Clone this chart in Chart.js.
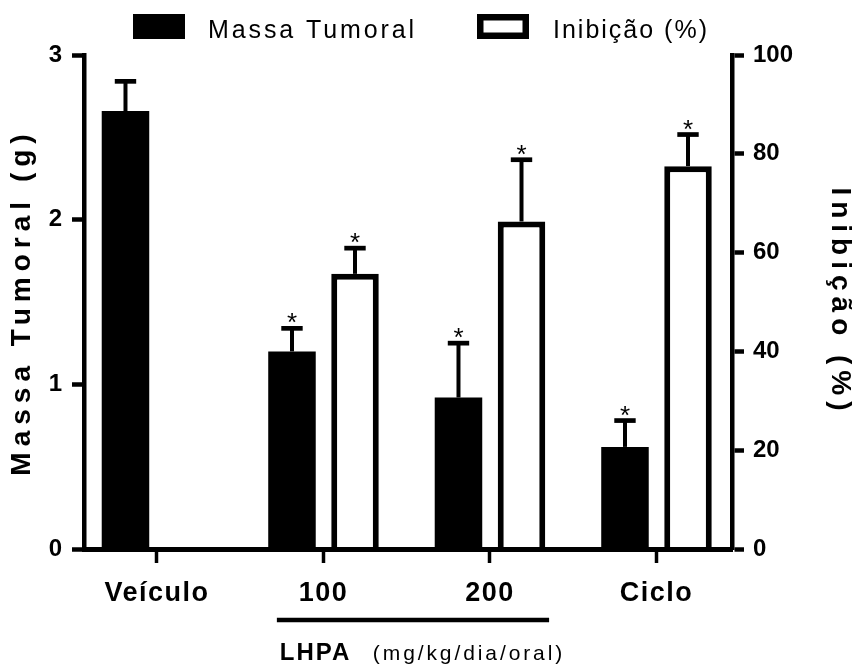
<!DOCTYPE html>
<html>
<head>
<meta charset="utf-8">
<script src="https://cdn.jsdelivr.net/npm/chart.js@4.4.1/dist/chart.umd.min.js"></script>
<style>html,body{margin:0;padding:0;background:#fff}canvas{display:block}</style>
</head>
<body>
<canvas id="c" width="858" height="666"></canvas>
<script>
// ---------- data ----------
const CATEGORIES = ['Veículo', '100', '200', 'Ciclo'];
const SERIES_LABELS = ['Massa Tumoral', 'Inibição (%)'];
const MASS_MEAN = [2.66, 1.20, 0.92, 0.62];
const MASS_SEM = [0.18, 0.14, 0.33, 0.16];
const INHIB_MEAN = [null, 55.7, 66.3, 77.5];
const INHIB_SEM = [null, 5.2, 12.5, 6.4];
const MASS_SIG = ['', '*', '*', '*'];
const INHIB_SIG = ['', '*', '*', '*'];
const LEFT_TICKS = [0, 1, 2, 3];
const RIGHT_TICKS = [0, 20, 40, 60, 80, 100];
const Y_LEFT_TITLE = 'Massa Tumoral (g)';
const Y_RIGHT_TITLE = 'Inibição (%)';
const GROUP_TITLE = 'LHPA';
const GROUP_UNIT = '(mg/kg/dia/oral)';

// ---------- style / layout ----------
const FF = "'Liberation Sans', Arial, Helvetica, sans-serif";
const X_MIN = -0.4384, X_MAX = 3.4535;
const GROUP_SPAN = [0.72, 2.355];
const LEGEND_LAYOUT = [
  {boxX: 133, textX: 208, spacing: '2.9px'},
  {boxX: 477, textX: 553, spacing: '2px'}
];

function spacingFor(font) {
  const bold = /bold|700/.test(font);
  if (bold && /(^|\s)28px/.test(font)) return '6px';
  if (bold && /(^|\s)27px/.test(font)) return '1.5px';
  return null;
}

const nativeFill = CanvasRenderingContext2D.prototype.fillText;
CanvasRenderingContext2D.prototype.fillText = function (t, x, y, mw) {
  const prev = this.letterSpacing;
  const unset = !prev || prev === '0px' || prev === '0';
  let changed = false;
  if (unset) {
    const s = spacingFor(String(this.font));
    if (s) { this.letterSpacing = s; changed = true; }
  }
  if (mw === undefined || mw === null) nativeFill.call(this, t, x, y); else nativeFill.call(this, t, x, y, mw);
  if (changed) this.letterSpacing = '0px';
};

const canvas = document.getElementById('c');

const errorBars = {
  id: 'errorBars',
  afterDatasetsDraw(chart) {
    const ctx = chart.ctx;
    const sets = [
      {mean: MASS_MEAN, sem: MASS_SEM, sig: MASS_SIG, axis: 'y'},
      {mean: INHIB_MEAN, sem: INHIB_SEM, sig: INHIB_SIG, axis: 'y1'}
    ];
    sets.forEach((s, di) => {
      const meta = chart.getDatasetMeta(di);
      const scale = chart.scales[s.axis];
      meta.data.forEach((bar, i) => {
        if (s.mean[i] == null) return;
        const yTop = scale.getPixelForValue(s.mean[i]);
        const yCap = scale.getPixelForValue(s.mean[i] + s.sem[i]);
        ctx.save();
        ctx.strokeStyle = '#000';
        ctx.lineWidth = 4;
        ctx.beginPath(); ctx.moveTo(bar.x, yTop); ctx.lineTo(bar.x, yCap); ctx.stroke();
        ctx.lineWidth = 4.7;
        ctx.beginPath(); ctx.moveTo(bar.x - 10.7, yCap); ctx.lineTo(bar.x + 10.7, yCap); ctx.stroke();
        if (s.sig[i]) {
          ctx.fillStyle = '#000';
          ctx.font = '26px ' + FF;
          ctx.textAlign = 'center';
          ctx.textBaseline = 'alphabetic';
          ctx.fillText(s.sig[i], bar.x, yCap + 3);
        }
        ctx.restore();
      });
    });
  }
};

const customLegend = {
  id: 'customLegend',
  afterDraw(chart) {
    const ctx = chart.ctx;
    chart.data.datasets.forEach((ds, i) => {
      const L = LEGEND_LAYOUT[i];
      const bw = 52, bh = 25, by = 14;
      ctx.save();
      if (ds.borderWidth > 0) {
        ctx.fillStyle = ds.borderColor;
        ctx.fillRect(L.boxX, by, bw, bh);
        ctx.fillStyle = ds.backgroundColor;
        ctx.fillRect(L.boxX + 6.5, by + 6.5, bw - 13, bh - 13);
      } else {
        ctx.fillStyle = ds.backgroundColor;
        ctx.fillRect(L.boxX, by, bw, bh);
      }
      ctx.fillStyle = '#000';
      ctx.font = '25px ' + FF;
      ctx.textAlign = 'left';
      ctx.textBaseline = 'alphabetic';
      ctx.letterSpacing = L.spacing;
      ctx.fillText(ds.label, L.textX, 38);
      ctx.restore();
    });
  }
};

const groupLabel = {
  id: 'groupLabel',
  afterDraw(chart) {
    const ctx = chart.ctx;
    const xs = chart.scales.x;
    const x1 = xs.getPixelForValue(GROUP_SPAN[0]);
    const x2 = xs.getPixelForValue(GROUP_SPAN[1]);
    ctx.save();
    ctx.strokeStyle = '#000';
    ctx.lineWidth = 4.5;
    ctx.beginPath(); ctx.moveTo(x1, 620); ctx.lineTo(x2, 620); ctx.stroke();
    ctx.fillStyle = '#000';
    ctx.textAlign = 'left';
    ctx.textBaseline = 'alphabetic';
    ctx.font = 'bold 24px ' + FF;
    ctx.letterSpacing = '2px';
    ctx.fillText(GROUP_TITLE, x1 + 3, 660);
    ctx.font = '21px ' + FF;
    ctx.letterSpacing = '2.9px';
    ctx.fillText(GROUP_UNIT, x1 + 96, 660);
    ctx.restore();
  }
};

new Chart(canvas, {
  type: 'bar',
  data: {
    datasets: [
      {
        label: SERIES_LABELS[0],
        data: CATEGORIES.map((c, i) => ({x: i, y: MASS_MEAN[i]})),
        yAxisID: 'y',
        backgroundColor: '#000',
        borderWidth: 0,
        categoryPercentage: 0.757,
        barPercentage: 0.754
      },
      {
        label: SERIES_LABELS[1],
        data: CATEGORIES.map((c, i) => ({x: i, y: INHIB_MEAN[i]})),
        yAxisID: 'y1',
        backgroundColor: '#fff',
        borderColor: '#000',
        borderWidth: 6,
        categoryPercentage: 0.757,
        barPercentage: 0.754
      }
    ]
  },
  options: {
    responsive: false,
    animation: false,
    events: [],
    layout: {padding: {top: 55, left: 0, right: 0, bottom: 0}},
    plugins: {legend: {display: false}, tooltip: {enabled: false}},
    scales: {
      x: {
        type: 'linear',
        offset: false,
        min: X_MIN,
        max: X_MAX,
        afterBuildTicks: s => { s.ticks = CATEGORIES.map((c, i) => ({value: i})); },
        afterFit: s => { s.height = 117; },
        ticks: {
          callback: v => CATEGORIES[v],
          font: {family: FF, size: 27, weight: 'bold'},
          color: '#000',
          padding: 14,
          maxRotation: 0,
          autoSkip: false
        },
        grid: {offset: false, drawOnChartArea: false, drawTicks: true, tickLength: 14, tickWidth: 3.5, tickColor: '#000'},
        border: {display: true, color: '#000', width: 5, z: 1}
      },
      y: {
        position: 'left',
        min: 0,
        max: 3,
        afterBuildTicks: s => { s.ticks = LEFT_TICKS.map(v => ({value: v})); },
        afterFit: s => { s.width = 84; },
        ticks: {font: {family: FF, size: 24, weight: 'bold'}, color: '#000', padding: 10},
        grid: {drawOnChartArea: false, drawTicks: true, tickLength: 12, tickWidth: 4.5, tickColor: '#000'},
        border: {display: true, color: '#000', width: 4.5},
        title: {display: true, text: Y_LEFT_TITLE, font: {family: FF, size: 28, weight: 'bold'}, color: '#000', padding: {top: 5, bottom: 0}}
      },
      y1: {
        position: 'right',
        min: 0,
        max: 100,
        afterBuildTicks: s => { s.ticks = RIGHT_TICKS.map(v => ({value: v})); },
        afterFit: s => { s.width = 126; },
        ticks: {font: {family: FF, size: 24, weight: 'bold'}, color: '#000', padding: 9},
        grid: {drawOnChartArea: false, drawTicks: true, tickLength: 12, tickWidth: 4.5, tickColor: '#000'},
        border: {display: true, color: '#000', width: 4.5},
        title: {display: true, text: Y_RIGHT_TITLE, font: {family: FF, size: 28, weight: 'bold'}, color: '#000', padding: {top: 1.2, bottom: 0}}
      }
    }
  },
  plugins: [errorBars, customLegend, groupLabel]
});
</script>
</body>
</html>
